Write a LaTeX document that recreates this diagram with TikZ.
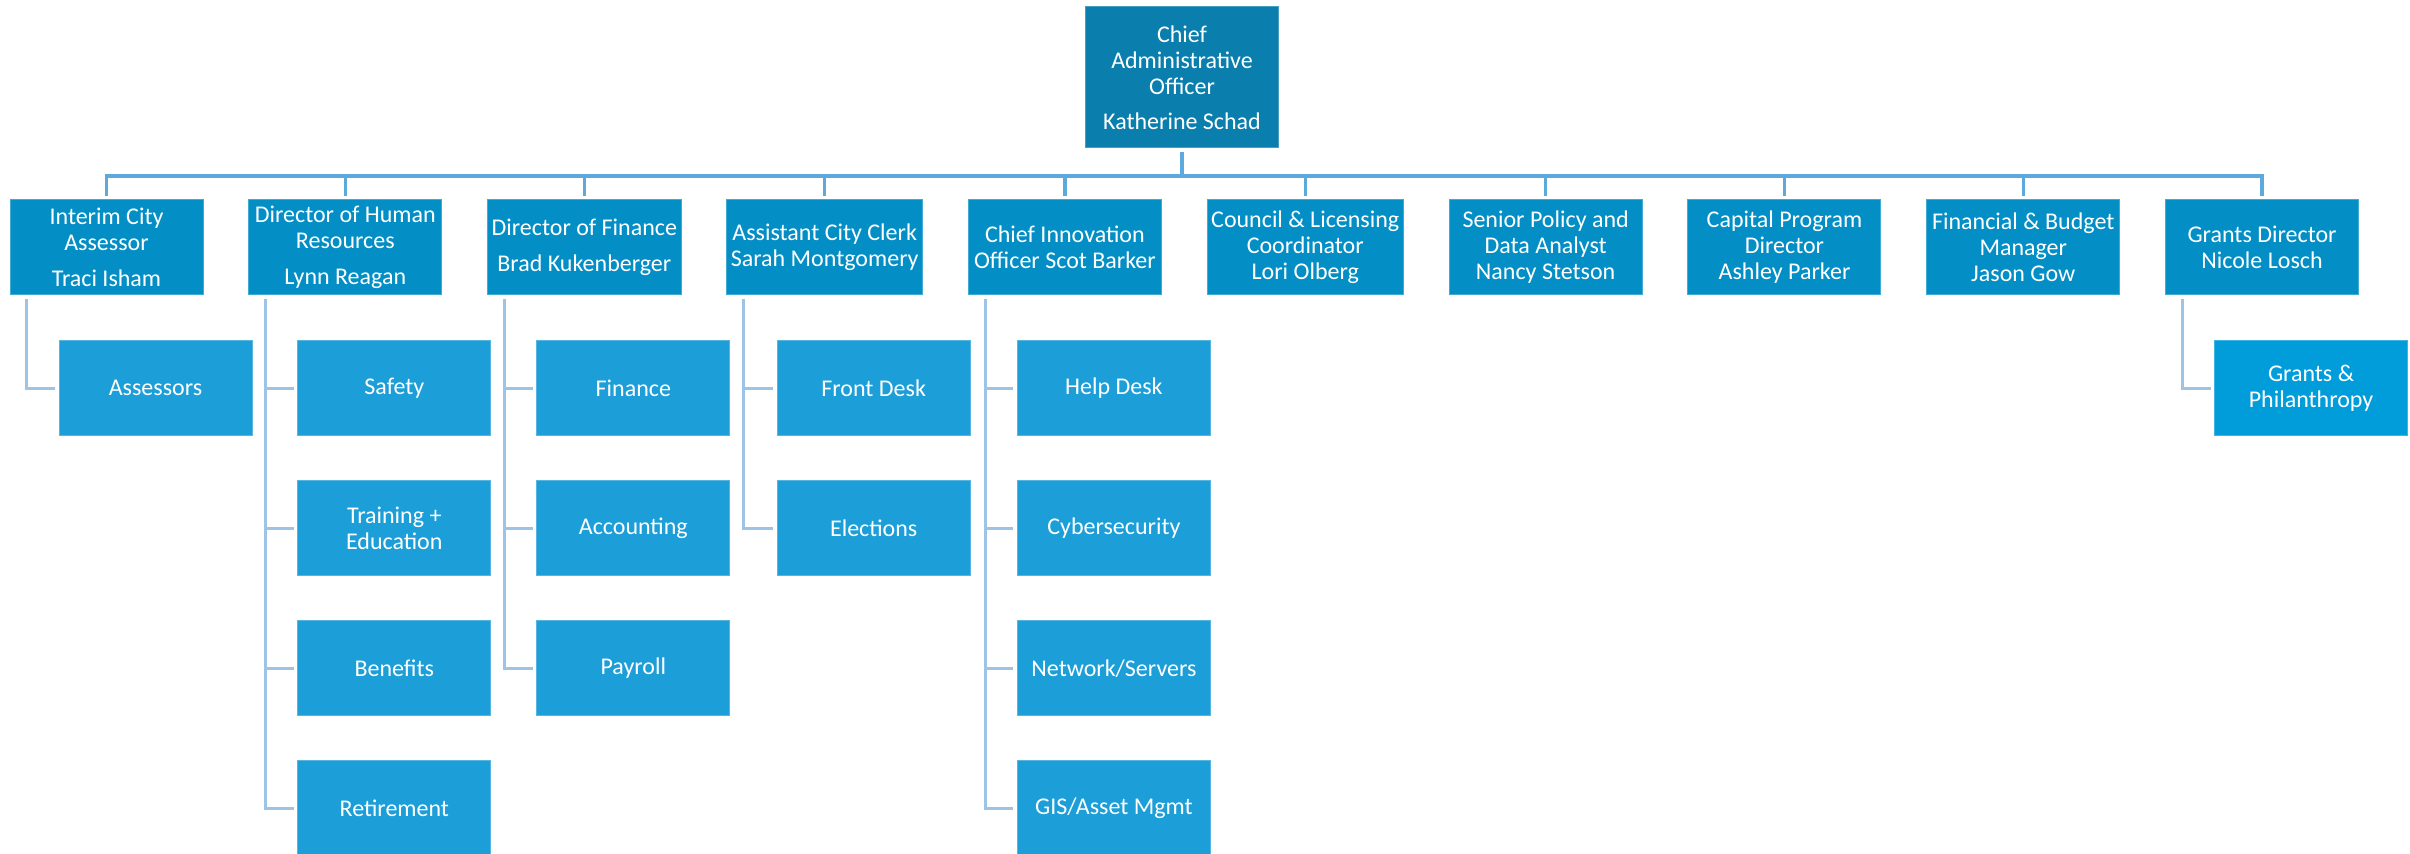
\documentclass[tikz,border=0pt]{standalone}
\usepackage{fontspec}
\setmainfont{Carlito}
\usetikzlibrary{positioning}

\definecolor{caoblue}{HTML}{0A7EAD}
\definecolor{deptblue}{HTML}{038FC5}
\definecolor{unitblue}{HTML}{1C9ED8}
\definecolor{grantblue}{HTML}{019DDA}
\definecolor{busblue}{HTML}{5BA9DD}
\definecolor{subblue}{HTML}{9DC3E6}

\begin{document}
\begin{tikzpicture}[x=0.5pt,y=-0.5pt,
	box/.style={rectangle, fill=#1, draw=#1!75!white, line width=0.5pt, text=white, align=center,
		minimum width=96.5pt, minimum height=47.5pt, inner sep=2pt, outer sep=0pt,
		font=\fontsize{12}{13}\selectfont},
	chief/.style={box=caoblue, minimum height=70.5pt},
	head/.style={box=deptblue},
	unit/.style={box=unitblue},
	busline/.style={draw=busblue, line width=1.75pt},
	subline/.style={draw=subblue, line width=1.5pt, shorten <=2pt, shorten >=2pt}]
	
	\useasboundingbox (0,0) rectangle (2410,854);
	
	\node[chief]                         (cao)   at (1182,77.5) {Chief\\Administrative\\Officer\\[4.5pt]Katherine Schad};
	\coordinate                          (bus)   at (1182,176);
	
	\node[head]                          (asr)   at (106.5,247.5) {Interim City\\Assessor\\[5pt]Traci Isham};
	\node[head, right=22.9pt of asr]     (hr)    {Director of Human\\Resources\\[5pt]Lynn Reagan};
	\node[head, right=22.9pt of hr]      (fin)   {Director of Finance\\[5pt]Brad Kukenberger};
	\node[head, right=22.9pt of fin]     (clerk) {Assistant City Clerk\\Sarah Montgomery};
	\node[head, right=22.9pt of clerk]   (cio)   {Chief Innovation\\Officer Scot Barker};
	\node[head, right=22.9pt of cio]     (lic)   {Council \& Licensing\\Coordinator\\Lori Olberg};
	\node[head, right=22.9pt of lic]     (pol)   {Senior Policy and\\Data Analyst\\Nancy Stetson};
	\node[head, right=22.9pt of pol]     (cap)   {Capital Program\\Director\\Ashley Parker};
	\node[head, right=22.9pt of cap]     (bud)   {Financial \& Budget\\Manager\\Jason Gow};
	\node[head, right=22.9pt of bud]     (grant) {Grants Director\\Nicole Losch};
	
	\node[unit, below=22.85pt of asr, xshift=24.5pt]   (assess) {Assessors};
	
	\node[unit, below=22.85pt of hr, xshift=24.5pt]    (safe)   {Safety};
	\node[unit, below=22.5pt of safe]                  (train)  {Training +\\Education};
	\node[unit, below=22.5pt of train]                 (ben)    {Benefits};
	\node[unit, below=22.5pt of ben]                   (ret)    {Retirement};
	
	\node[unit, below=22.85pt of fin, xshift=24.5pt]   (finu)   {Finance};
	\node[unit, below=22.5pt of finu]                  (acct)   {Accounting};
	\node[unit, below=22.5pt of acct]                  (pay)    {Payroll};
	
	\node[unit, below=22.85pt of clerk, xshift=24.5pt] (desk)   {Front Desk};
	\node[unit, below=22.5pt of desk]                  (elect)  {Elections};
	
	\node[unit, below=22.85pt of cio, xshift=24.5pt]   (help)   {Help Desk};
	\node[unit, below=22.5pt of help]                  (cyber)  {Cybersecurity};
	\node[unit, below=22.5pt of cyber]                 (net)    {Network/Servers};
	\node[unit, below=22.5pt of net]                   (gis)    {GIS/Asset Mgmt};
	
	\node[box=grantblue, below=22.85pt of grant, xshift=24.5pt] (phil) {Grants \&\\Philanthropy};
	
	% top level
	\draw[busline, shorten <=2pt] (cao) -- (bus);
	\foreach \d in {asr,hr,fin,clerk,cio,lic,pol,cap,bud,grant}
		\draw[busline, shorten >=2pt] (bus) -| (\d);
	
	% units
	\draw[subline] ([xshift=8.35pt]asr.south west) |- (assess);
	\foreach \u in {safe,train,ben,ret}
		\draw[subline] ([xshift=8.35pt]hr.south west) |- (\u);
	\foreach \u in {finu,acct,pay}
		\draw[subline] ([xshift=8.35pt]fin.south west) |- (\u);
	\foreach \u in {desk,elect}
		\draw[subline] ([xshift=8.35pt]clerk.south west) |- (\u);
	\foreach \u in {help,cyber,net,gis}
		\draw[subline] ([xshift=8.35pt]cio.south west) |- (\u);
	\draw[subline] ([xshift=8.35pt]grant.south west) |- (phil);
	
\end{tikzpicture}
\end{document}
